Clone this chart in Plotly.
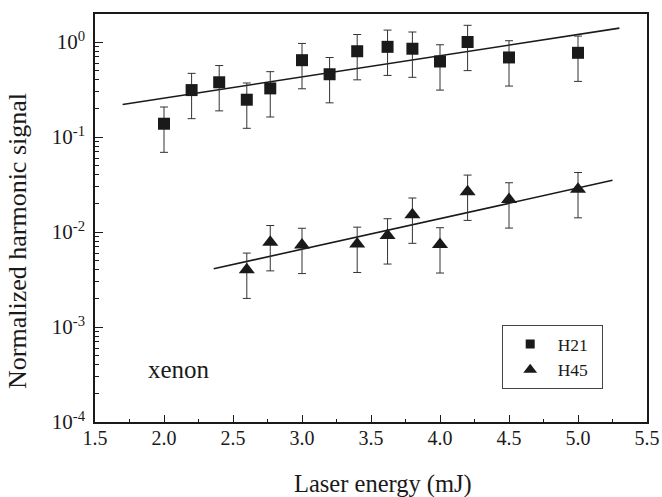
import plotly.graph_objects as go

# H21 data (squares)
h21_x = [2.0, 2.2, 2.4, 2.6, 2.77, 3.0, 3.2, 3.4, 3.62, 3.8, 4.0, 4.2, 4.5, 5.0]
h21_y = [0.138, 0.312, 0.377, 0.247, 0.325, 0.644, 0.458, 0.80, 0.89, 0.85, 0.624, 1.0, 0.688, 0.77]
# H45 data (triangles)
h45_x = [2.6, 2.77, 3.0, 3.4, 3.62, 3.8, 4.0, 4.2, 4.5, 5.0]
h45_y = [0.0040, 0.0078, 0.0073, 0.0075, 0.0092, 0.0152, 0.0074, 0.0265, 0.022, 0.0282]
rel_err = 0.5

# fit lines
fit21_x = [1.7, 5.3]
fit21_y = [0.22, 1.40]
fit45_x = [2.36, 5.25]
fit45_y = [0.0041, 0.035]

ytick_vals = [1e-4, 1e-3, 1e-2, 1e-1, 1]
ytick_text = ["10<sup>-4</sup>", "10<sup>-3</sup>", "10<sup>-2</sup>", "10<sup>-1</sup>", "10<sup>0</sup>"]
decades = [1e-4, 1e-3, 1e-2, 1e-1, 1]
minor_digits = [2, 3, 4, 5, 6, 7, 8, 9]
ymin_vals = [d * m for d in decades for m in minor_digits if d * m < 1.97]

ink = "#1a1a1a"
font = "Liberation Serif, 'Times New Roman', Times, serif"

fig = go.Figure()
fig.add_trace(go.Scatter(x=fit21_x, y=fit21_y, mode="lines", line=dict(color=ink, width=1.6), showlegend=False))
fig.add_trace(go.Scatter(x=fit45_x, y=fit45_y, mode="lines", line=dict(color=ink, width=1.6), showlegend=False))
fig.add_trace(go.Scatter(
    x=h21_x, y=h21_y, mode="markers", name="H21", showlegend=False,
    marker=dict(symbol="square", size=12, color=ink),
    error_y=dict(type="data", array=[v * rel_err for v in h21_y], color="#333", thickness=1, width=4),
))
fig.add_trace(go.Scatter(
    x=h45_x, y=h45_y, mode="markers", name="H45", showlegend=False,
    marker=dict(symbol="triangle-up", size=14, color=ink),
    error_y=dict(type="data", array=[v * rel_err for v in h45_y], color="#333", thickness=1, width=4),
))
# legend entries
fig.add_trace(go.Scatter(x=[None], y=[None], mode="markers", name="H21\u00a0\u00a0",
                         marker=dict(symbol="square", size=9, color=ink)))
fig.add_trace(go.Scatter(x=[None], y=[None], mode="markers", name="H45\u00a0\u00a0",
                         marker=dict(symbol="triangle-up", size=12, color=ink)))

fig.add_annotation(text="xenon", xref="paper", yref="paper", x=(146 - 95) / 552, y=(422 - 369) / 408,
                   xanchor="left", yanchor="middle", showarrow=False,
                   font=dict(family=font, size=25, color=ink))
fig.add_annotation(text="Laser energy (mJ)", xref="paper", yref="paper", x=(382.5 - 95) / 552,
                   y=(422 - 484) / 408, xanchor="center", yanchor="middle", showarrow=False,
                   font=dict(family=font, size=24.5, color=ink))
fig.add_annotation(text="Normalized harmonic signal", xref="paper", yref="paper", x=(17.5 - 95) / 552,
                   y=(422 - 241.5) / 408, xanchor="center", yanchor="middle", showarrow=False,
                   textangle=-90, font=dict(family=font, size=26, color=ink))

fig.update_layout(
    width=662, height=497,
    margin=dict(l=95, r=15, t=14, b=75),
    plot_bgcolor="white", paper_bgcolor="white",
    font=dict(family=font, size=20, color=ink),
    legend=dict(x=(501.7 - 95) / 552, y=(422 - 325) / 408, xanchor="left", yanchor="top",
                bordercolor="#444", borderwidth=1, bgcolor="white",
                font=dict(family=font, size=17.5, color=ink),
                itemwidth=45, tracegroupgap=0),
    xaxis=dict(range=[1.5, 5.5], dtick=0.5, tickformat=".1f", automargin=False,
               showline=True, linecolor=ink, linewidth=1.5, mirror=True,
               ticks="inside", ticklen=7, tickcolor=ink, tickwidth=1.2,
               tickfont=dict(family=font, size=20, color=ink), ticklabelstandoff=-3,
               minor=dict(ticks="inside", ticklen=3.5, dtick=0.25, tick0=1.5, tickcolor=ink, tickwidth=1.2),
               showgrid=False, zeroline=False),
    yaxis=dict(type="log", range=[-4, 0.295], tickvals=ytick_vals, ticktext=ytick_text, automargin=False,
               showline=True, linecolor=ink, linewidth=1.5, mirror=True,
               ticks="inside", ticklen=8, tickcolor=ink, tickwidth=1.2,
               tickfont=dict(family=font, size=21, color=ink), ticklabelstandoff=4,
               minor=dict(ticks="inside", ticklen=4.5, tickvals=ymin_vals, tickcolor=ink, tickwidth=1),
               showgrid=False, zeroline=False),
)

fig.write_html("out.html", config={"displayModeBar": False},
               post_script="document.body.style.margin='0';document.body.style.overflow='hidden';")
